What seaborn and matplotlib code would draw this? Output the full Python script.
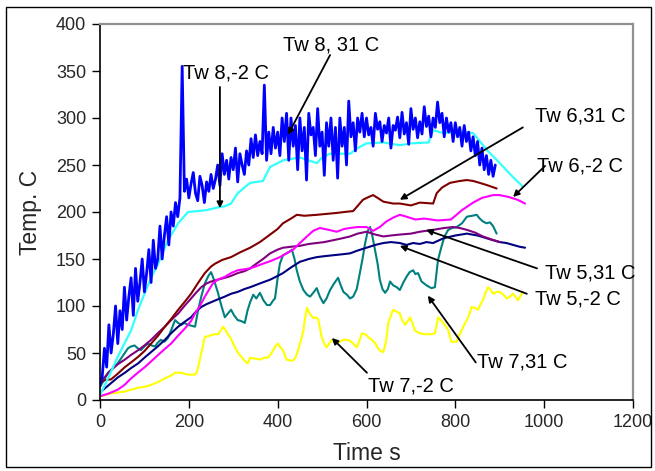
import matplotlib
matplotlib.use("Agg")
import matplotlib.pyplot as plt
from matplotlib.patches import Rectangle
import seaborn as sns

# ---------------- data ----------------
blue_t = list(range(0, 895, 5))
blue_y = [15, 25, 55, 35, 80, 50, 70, 100, 60, 95,
          75, 120, 85, 110, 130, 90, 140, 105, 125, 150,
          115, 135, 160, 125, 170, 140, 150, 185, 150, 175,
          195, 165, 200, 185, 210, 195, 215, 355, 222, 235,
          215, 230, 242, 220, 212, 238, 228, 210, 232, 222,
          240, 225, 235, 250, 228, 262, 240, 255, 235, 258,
          245, 268, 232, 262, 250, 240, 265, 250, 278, 258,
          282, 260, 275, 262, 335, 255, 285, 262, 290, 268,
          285, 260, 300, 275, 305, 255, 300, 270, 292, 245,
          300, 265, 290, 234, 305, 282, 290, 260, 310, 270,
          285, 239, 295, 270, 300, 255, 290, 236, 300, 270,
          290, 250, 318, 280, 295, 265, 300, 285, 305, 280,
          300, 282, 290, 270, 305, 288, 296, 275, 292, 284,
          300, 268, 292, 287, 301, 279, 306, 283, 295, 272,
          310, 288, 300, 279, 296, 283, 312, 291, 302, 280,
          300, 290, 317, 295, 305, 280, 300, 285, 295, 275,
          295, 280, 290, 270, 292, 275, 285, 265, 280, 260,
          275, 250, 268, 245, 260, 240, 255, 238, 250]

cyan_t = [0, 10, 20, 40, 55, 70, 85, 101, 115, 131, 153, 176, 198, 220, 240, 266, 280, 295, 310, 325,
          338, 367, 383, 400, 412, 450, 488, 500, 518, 563, 580, 600, 638, 675, 700, 740, 750, 773, 800, 840,
          871, 900, 930, 952]
cyan_y = [5, 15, 25, 46, 60, 74, 95, 114, 130, 145, 170, 188, 200, 201, 202, 205, 206, 209, 220, 226,
          231, 233, 248, 252, 255, 258, 252, 258, 262, 262, 268, 273, 274, 271, 273, 274, 287, 284, 285, 284,
          266, 252, 237, 227]

red_t = [0, 10, 25, 40, 56, 70, 86, 100, 115, 130, 146, 160, 176, 190, 205, 220, 236, 250, 259, 275,
         295, 315, 338, 360, 383, 400, 412, 430, 443, 460, 488, 510, 533, 550, 570, 592, 605, 615, 625, 638,
         660, 675, 700, 720, 750, 758, 770, 788, 810, 826, 840, 855, 875, 893]
red_y = [18, 21, 22, 28, 35, 40, 46, 52, 60, 68, 78, 86, 96, 104, 113, 124, 135, 142, 145, 149,
         152, 157, 162, 168, 176, 182, 188, 193, 197, 196, 197, 198, 199, 200, 201, 213, 216, 218, 215, 211,
         209, 209, 207, 210, 209, 220, 226, 231, 233, 234, 233, 231, 228, 225]

magenta_t = [0, 20, 40, 55, 70, 85, 101, 115, 131, 145, 160, 175, 191, 205, 214, 225, 236, 245, 254, 265,
             281, 295, 310, 338, 350, 367, 385, 405, 420, 435, 450, 466, 480, 495, 515, 533, 550, 563, 580, 600,
             615, 630, 645, 660, 675, 690, 710, 730, 760, 790, 815, 840, 860, 885, 900, 920, 940, 957]
magenta_y = [4, 7, 11, 16, 23, 29, 35, 41, 48, 54, 60, 68, 76, 84, 92, 100, 110, 117, 124, 128,
             131, 135, 138, 140, 142, 145, 148, 152, 156, 160, 167, 174, 180, 183, 181, 179, 182, 183, 184, 184,
             180, 184, 190, 194, 197, 195, 192, 193, 191, 192, 202, 210, 215, 218, 218, 216, 213, 209]

purple_t = [0, 10, 25, 40, 56, 70, 86, 100, 115, 130, 146, 160, 176, 190, 205, 216, 228, 240, 250, 265,
            281, 295, 310, 325, 338, 355, 367, 383, 400, 412, 430, 450, 470, 488, 505, 525, 545, 563, 580, 600,
            620, 638, 655, 675, 700, 720, 750, 775, 795, 810, 826, 845, 862, 880, 900]
purple_y = [20, 24, 32, 38, 43, 48, 53, 58, 64, 71, 78, 85, 92, 100, 108, 114, 120, 124, 126, 128,
            130, 132, 135, 137, 140, 146, 150, 156, 160, 162, 163, 164, 166, 167, 168, 170, 172, 174, 177, 179,
            176, 174, 175, 176, 177, 179, 181, 183, 184, 183, 181, 178, 174, 171, 168]

navy_t = [0, 10, 25, 40, 56, 70, 86, 100, 115, 130, 146, 160, 176, 190, 205, 216, 228, 240, 250, 265,
          281, 295, 310, 325, 338, 360, 383, 400, 412, 430, 450, 470, 488, 505, 525, 545, 563, 580, 600, 620,
          638, 655, 675, 690, 705, 720, 735, 750, 773, 800, 826, 850, 871, 885, 900, 915, 930, 945, 957]
navy_y = [8, 12, 18, 24, 29, 34, 39, 45, 51, 57, 64, 71, 78, 83, 88, 94, 99, 102, 104, 107,
          110, 113, 115, 118, 120, 124, 128, 132, 135, 141, 147, 150, 152, 153, 154, 155, 156, 159, 162, 165,
          167, 168, 167, 165, 167, 166, 168, 167, 172, 175, 177, 175, 172, 170, 168, 167, 165, 163, 162]

teal_t = [0, 10, 18, 30, 40, 50, 63, 70, 78, 85, 92, 100, 108, 116, 124, 130, 137, 145, 153, 160,
          169, 176, 183, 190, 198, 206, 214, 221, 228, 236, 244, 250, 255, 259, 265, 270, 276, 281, 288, 295,
          302, 310, 318, 326, 332, 338, 345, 352, 360, 368, 376, 383, 390, 394, 400, 405, 412, 420, 427, 432,
          438, 443, 450, 458, 466, 473, 480, 488, 495, 503, 510, 518, 527, 536, 542, 548, 556, 563, 570, 578,
          585, 591, 597, 603, 608, 613, 619, 625, 630, 636, 642, 648, 653, 660, 668, 675, 683, 690, 697, 705,
          710, 716, 724, 735, 746, 754, 761, 767, 773, 778, 784, 793, 803, 815, 826, 838, 848, 855, 862, 870,
          878, 885, 893]
teal_y = [14, 22, 29, 34, 39, 46, 55, 57, 58, 55, 53, 57, 60, 58, 57, 61, 64, 62, 66, 74,
          85, 82, 80, 82, 80, 79, 78, 96, 110, 124, 132, 136, 130, 124, 115, 106, 96, 88, 92, 96,
          90, 85, 84, 82, 95, 104, 112, 108, 114, 106, 101, 101, 106, 108, 130, 145, 154, 156, 158, 160,
          150, 138, 126, 117, 112, 110, 114, 119, 110, 103, 108, 117, 124, 130, 122, 115, 112, 108, 110, 118,
          135, 150, 167, 180, 184, 175, 160, 145, 128, 118, 114, 118, 126, 122, 120, 117, 125, 131, 136, 138,
          134, 135, 126, 122, 119, 120, 149, 160, 170, 176, 181, 183, 184, 188, 195, 196, 197, 193, 190, 188,
          189, 185, 177]

yellow_t = [0, 10, 25, 40, 56, 70, 86, 100, 115, 130, 146, 160, 169, 183, 190, 198, 214, 218, 221, 228,
            236, 244, 250, 258, 266, 272, 277, 283, 288, 293, 298, 304, 311, 318, 325, 333, 338, 350, 360, 370,
            378, 385, 390, 396, 401, 406, 412, 416, 420, 428, 435, 440, 446, 452, 458, 462, 466, 472, 480, 486,
            491, 495, 499, 505, 510, 516, 522, 528, 533, 540, 548, 555, 563, 570, 578, 584, 590, 596, 600, 606,
            612, 620, 626, 632, 638, 644, 649, 655, 660, 668, 675, 680, 687, 693, 698, 703, 709, 715, 720, 731,
            746, 754, 758, 761, 767, 773, 779, 784, 791, 797, 803, 808, 814, 820, 826, 832, 837, 844, 851, 857,
            862, 868, 874, 880, 885, 893, 900, 908, 916, 923, 930, 935, 941, 946, 952]
yellow_y = [4, 5, 7, 8, 9, 11, 13, 14, 16, 19, 23, 26, 29, 29, 28, 27, 27, 30, 35, 50,
            67, 68, 69, 70, 70, 74, 78, 74, 70, 67, 62, 56, 50, 46, 42, 39, 45, 44, 43, 45,
            45, 49, 53, 58, 60, 56, 53, 48, 43, 42, 42, 45, 53, 63, 74, 88, 98, 92, 87, 88,
            86, 77, 67, 60, 56, 60, 64, 62, 60, 62, 64, 64, 63, 60, 56, 63, 71, 70, 69, 66,
            64, 60, 55, 52, 51, 62, 82, 90, 96, 94, 92, 85, 80, 84, 88, 82, 74, 72, 71, 70,
            70, 71, 80, 88, 85, 82, 78, 74, 62, 62, 62, 68, 74, 80, 85, 92, 99, 98, 96, 102,
            106, 114, 120, 117, 113, 115, 115, 112, 108, 110, 113, 110, 106, 110, 115]

x_ticks = [0, 200, 400, 600, 800, 1000, 1200]
y_ticks = [0, 50, 100, 150, 200, 250, 300, 350, 400]

labels = ["Tw 8,-2 C", "Tw 8, 31 C", "Tw 6,31 C", "Tw 6,-2 C",
          "Tw 5,31 C", "Tw 5,-2 C", "Tw 7,31 C", "Tw 7,-2 C"]

# ---------------- style ----------------
sns.set_style("white")
plt.rcParams["font.family"] = ["Liberation Sans", "DejaVu Sans"]

W, H = 655, 471
fig = plt.figure(figsize=(W / 100, H / 100), dpi=100)
ax = fig.add_axes([100 / W, 1 - 400 / H, (633 - 100) / W, (400 - 24) / H])

series = [
    (yellow_t, yellow_y, "#FFFF00", 1.5),
    (teal_t, teal_y, "#008080", 1.5),
    (navy_t, navy_y, "#000080", 1.5),
    (purple_t, purple_y, "#800080", 1.5),
    (magenta_t, magenta_y, "#FF00FF", 1.5),
    (red_t, red_y, "#800000", 1.5),
    (cyan_t, cyan_y, "#33FFFF", 1.6),
    (blue_t, blue_y, "#0000FF", 2.0),
]
for t, y, c, lw in series:
    sns.lineplot(x=t, y=y, ax=ax, color=c, linewidth=lw, estimator=None, sort=False)

ax.set_xlim(0, 1200)
ax.set_ylim(0, 400)
ax.set_xticks(x_ticks)
ax.set_yticks(y_ticks)
ax.tick_params(axis="both", direction="out", length=6, width=1, color="black",
               labelsize=13, pad=4, left=True, bottom=True)
ax.set_xlabel("Time s", fontsize=16.5, labelpad=8)
ax.set_ylabel("Temp. C", fontsize=16.5, labelpad=10)

for s in ("left", "bottom"):
    ax.spines[s].set_color("black")
    ax.spines[s].set_linewidth(1.2)
for s in ("top", "right"):
    ax.spines[s].set_color("#909090")
    ax.spines[s].set_linewidth(1.6)

# ---------------- annotations ----------------
text_pos = [(187, 348), (412, 378), (979, 302), (984, 249),
            (1002, 135), (979, 107), (849, 40), (603, 15)]
arrow_start = [(270, 333), (518, 367), (952, 290), (1002, 249),
               (984, 140), (961, 113), (846, 40), (601, 29)]
arrow_tip = [(270, 204), (423, 282), (675, 213), (930, 216),
             (734, 181), (675, 164), (738, 111), (522, 66)]

for lab, (tx, ty), st, tp in zip(labels, text_pos, arrow_start, arrow_tip):
    ax.text(tx, ty, lab, fontsize=14.5, ha="left", va="center", color="black", clip_on=False)
    ax.annotate("", xy=tp, xytext=st, xycoords="data", textcoords="data",
                arrowprops=dict(arrowstyle="-|>", color="black", lw=1.3,
                                mutation_scale=9, shrinkA=0, shrinkB=0),
                annotation_clip=False)

fig.patches.append(Rectangle((6 / W, 1 - 467 / H), (651 - 6) / W, (467 - 7) / H,
                             transform=fig.transFigure, fill=False,
                             edgecolor="black", linewidth=1.0))

fig.savefig("out.png", dpi=100)
